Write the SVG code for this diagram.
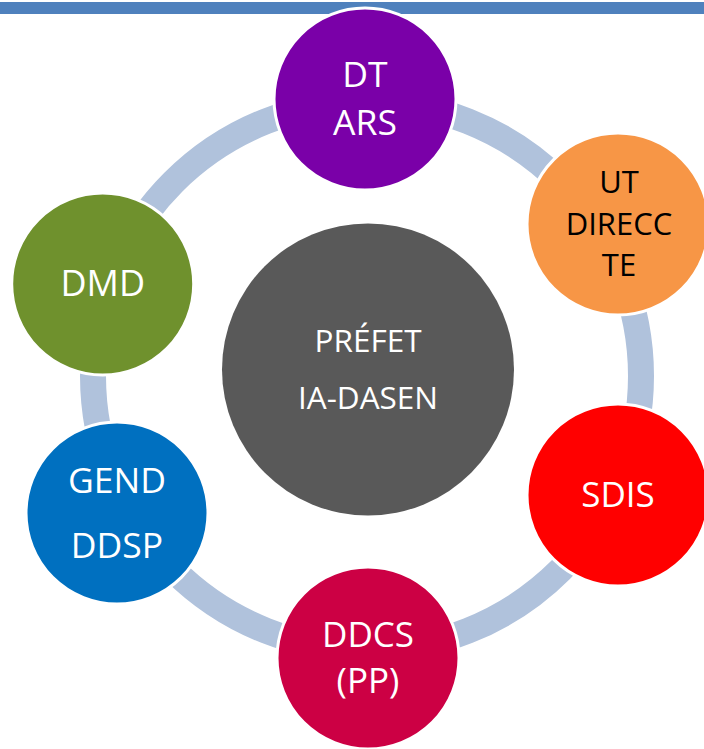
<svg xmlns="http://www.w3.org/2000/svg" width="704" height="749" viewBox="0 0 704 749">
<style>
.node { stroke: #FFFFFF; stroke-width: 3; }
.lbl { font-family: "Open Sans", "Liberation Sans", sans-serif; text-anchor: middle; fill: #FFFFFF; }
.dark { fill: #000000; }
.ring { fill: none; stroke: #B0C2DC; stroke-width: 26; }
</style>
<rect x="0" y="2" width="704" height="12" fill="#4F81BD"/>
<g id="connectors">
  <circle class="ring" cx="367" cy="376" r="274"/>
</g>
<g id="center">
  <circle cx="368" cy="369.5" r="146" fill="#595959"/>
  <text class="lbl" x="368" y="351.7" font-size="31.5">PRÉFET</text>
  <text class="lbl" x="368" y="409" font-size="31.5">IA-DASEN</text>
</g>
<g id="dt-ars">
  <circle class="node" cx="365" cy="99" r="91" fill="#7A00A8"/>
  <text class="lbl" x="365" y="87" font-size="35.5">DT</text>
  <text class="lbl" x="365" y="135" font-size="35.5">ARS</text>
</g>
<g id="ut-direccte">
  <circle class="node" cx="618" cy="224" r="91" fill="#F79646"/>
  <text class="lbl dark" x="619" y="193" font-size="31">UT</text>
  <text class="lbl dark" x="619" y="235" font-size="31">DIRECC</text>
  <text class="lbl dark" x="619" y="276" font-size="31">TE</text>
</g>
<g id="sdis">
  <circle class="node" cx="618" cy="495" r="91" fill="#FF0000"/>
  <text class="lbl" x="618" y="506.7" font-size="35">SDIS</text>
</g>
<g id="ddcs">
  <circle class="node" cx="368" cy="658" r="91" fill="#CC0044"/>
  <text class="lbl" x="368" y="646.7" font-size="35">DDCS</text>
  <text class="lbl" x="368" y="693" font-size="35">(PP)</text>
</g>
<g id="gend-ddsp">
  <circle class="node" cx="117" cy="513" r="91" fill="#0070C0"/>
  <text class="lbl" x="117" y="493.3" font-size="35.5">GEND</text>
  <text class="lbl" x="117" y="558.3" font-size="35.5">DDSP</text>
</g>
<g id="dmd">
  <circle class="node" cx="102.7" cy="284" r="91" fill="#6F912D"/>
  <text class="lbl" x="102.7" y="295.7" font-size="36">DMD</text>
</g>
</svg>
